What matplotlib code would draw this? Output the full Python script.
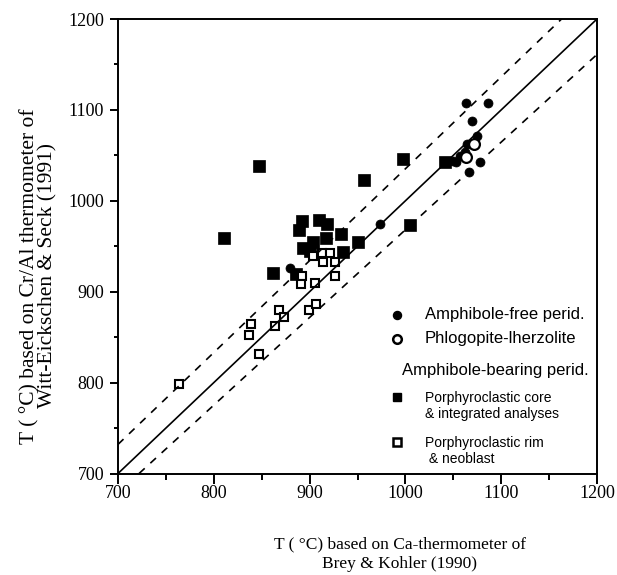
import matplotlib
matplotlib.use("Agg")
import matplotlib.pyplot as plt
from matplotlib.ticker import MultipleLocator

# ---- data --------------------------------------------------------------
# Amphibole-free peridotite (filled circles)
free_x = [1063, 1086, 1069, 1075, 1064, 1062, 1057, 1053, 1078, 1066, 1050, 974, 880]
free_y = [1108, 1108, 1088, 1071, 1062, 1054, 1049, 1043, 1043, 1032, 1044, 974, 926]

# Phlogopite-lherzolite (open circles)
phl_x = [1072, 1063]
phl_y = [1062, 1048]

# Amphibole-bearing: porphyroclastic core & integrated analyses (filled squares)
core_x = [847, 811, 997, 957, 1005, 951, 862, 886, 892, 889, 910, 918,
          933, 917, 904, 893, 900, 935, 1041]
core_y = [1038, 959, 1046, 1023, 973, 955, 921, 920, 978, 968, 979, 974,
          963, 959, 955, 948, 945, 944, 1043]

# Amphibole-bearing: porphyroclastic rim & neoblast (open squares)
rim_x = [764, 839, 837, 847, 864, 868, 873, 899, 907, 892, 891, 906,
         926, 904, 913, 921, 914, 926]
rim_y = [799, 864, 852, 832, 862, 880, 872, 880, 887, 917, 908, 910,
         917, 939, 943, 943, 933, 933]

# reference lines
one_x, one_y = [700, 1200], [700, 1200]
upper_x, upper_y = [700, 1163], [732, 1200]
lower_x, lower_y = [722, 1200], [700, 1161]

# ---- style -------------------------------------------------------------
SERIF = ["Liberation Serif", "DejaVu Serif"]
SANS = ["Liberation Sans", "DejaVu Sans"]
plt.rcParams.update({
    "font.family": SERIF,
    "lines.scale_dashes": False,
    "axes.linewidth": 1.4,
})

W, H = 617, 575
fig = plt.figure(figsize=(W / 100, H / 100), dpi=100)
fig.patch.set_facecolor("white")


def fx(px):
    return px / W


def fy(py):
    return 1 - py / H


ax = fig.add_axes([fx(118), fy(473.5), 479 / W, 454.5 / H])
ax.set_xlim(700, 1200)
ax.set_ylim(700, 1200)
ax.xaxis.set_major_locator(MultipleLocator(100))
ax.xaxis.set_minor_locator(MultipleLocator(50))
ax.yaxis.set_major_locator(MultipleLocator(100))
ax.yaxis.set_minor_locator(MultipleLocator(50))
ax.tick_params(axis="x", which="major", direction="out", length=7, width=1.4,
               pad=1, labelsize=13)
ax.tick_params(axis="x", which="minor", direction="out", length=4, width=1.4)
ax.tick_params(axis="y", which="major", direction="out", length=6, width=1.4,
               pad=4, labelsize=13)
ax.tick_params(axis="y", which="minor", direction="out", length=3, width=1.4)

# reference lines (drawn over the markers, as in the original)
ax.plot(one_x, one_y, color="black", lw=1.2, zorder=7)
ax.plot(upper_x, upper_y, color="black", lw=1.2, dashes=(5.5, 5.5), zorder=7)
ax.plot(lower_x, lower_y, color="black", lw=1.2, dashes=(5.5, 5.5), zorder=7)

# data
ax.plot(core_x, core_y, ls="none", marker="s", ms=8.2, mfc="black",
        mec="black", mew=0.5, zorder=3)
ax.plot(rim_x, rim_y, ls="none", marker="s", ms=6.4, mfc="white",
        mec="black", mew=1.5, zorder=4)
ax.plot(free_x, free_y, ls="none", marker="o", ms=6.5, mfc="black",
        mec="black", mew=0.5, zorder=5)
ax.plot(phl_x, phl_y, ls="none", marker="o", ms=7.8, mfc="white",
        mec="black", mew=1.6, zorder=6)

# ---- hand-drawn legend -------------------------------------------------
mk = dict(transform=fig.transFigure, ls="none", color="black", clip_on=False)
fig.lines.append(plt.Line2D([fx(397)], [fy(315)], marker="o", ms=5.8,
                            mfc="black", mec="black", **mk))
fig.lines.append(plt.Line2D([fx(397)], [fy(339)], marker="o", ms=6.2,
                            mfc="white", mec="black", mew=1.8, **mk))
fig.lines.append(plt.Line2D([fx(397)], [fy(397)], marker="s", ms=6.2,
                            mfc="black", mec="black", **mk))
fig.lines.append(plt.Line2D([fx(397)], [fy(442)], marker="s", ms=5.6,
                            mfc="white", mec="black", mew=1.8, **mk))

fig.text(fx(425), fy(315), "Amphibole-free perid.", family=SANS, fontsize=12,
         ha="left", va="center")
fig.text(fx(425), fy(339), "Phlogopite-lherzolite", family=SANS, fontsize=12,
         ha="left", va="center")
fig.text(fx(402), fy(370), "Amphibole-bearing perid.", family=SANS, fontsize=12,
         ha="left", va="center")
fig.text(fx(425), fy(406), "Porphyroclastic core\n& integrated analyses",
         family=SANS, fontsize=10, ha="left", va="center", linespacing=1.25)
fig.text(fx(425), fy(451), "Porphyroclastic rim\n & neoblast",
         family=SANS, fontsize=10, ha="left", va="center", linespacing=1.25)

# ---- axis labels -------------------------------------------------------
fig.text(fx(400), fy(554), "T ( °C) based on Ca-thermometer of\nBrey & Kohler (1990)",
         fontsize=12.5, ha="center", va="center", linespacing=1.3)
fig.text(fx(39), fy(276), "T ( °C) based on Cr/Al thermometer of\nWitt-Eickschen & Seck (1991)",
         fontsize=15.5, ha="center", va="center", rotation=90, linespacing=0.9)

fig.savefig("out.png", dpi=100, facecolor="white")
